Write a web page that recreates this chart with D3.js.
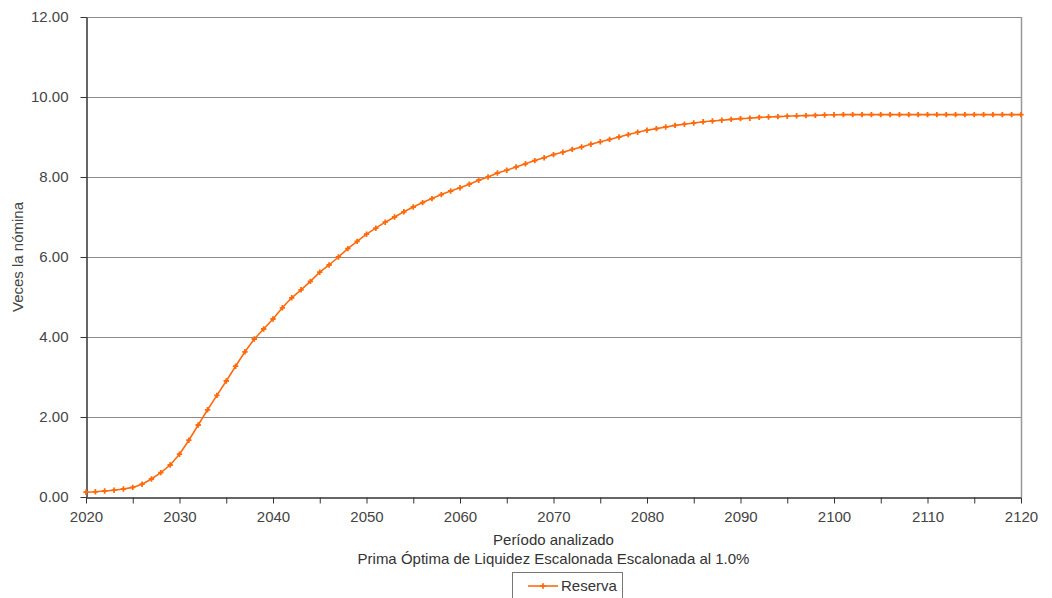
<!DOCTYPE html>
<html>
<head>
<meta charset="utf-8">
<script src="https://cdn.jsdelivr.net/npm/d3@7"></script>
<style>
  html, body { margin: 0; padding: 0; background: #fff; }
  svg { display: block; font-family: "Liberation Sans", Arial, sans-serif; }
</style>
</head>
<body>
<svg id="chart" width="1052" height="598"></svg>
<script>
const years = d3.range(2020, 2121);
const reserva = [
  0.12, 0.13, 0.15, 0.17, 0.20, 0.24, 0.32, 0.45, 0.61, 0.80,
  1.07, 1.42, 1.80, 2.18, 2.54, 2.90, 3.27, 3.63, 3.95, 4.20,
  4.45, 4.73, 4.98, 5.18, 5.39, 5.62, 5.80, 6.00, 6.21, 6.39,
  6.57, 6.72, 6.87, 7.00, 7.13, 7.25, 7.36, 7.46, 7.56, 7.65,
  7.73, 7.82, 7.92, 8.00, 8.10, 8.17, 8.25, 8.33, 8.41, 8.48,
  8.56, 8.62, 8.69, 8.75, 8.82, 8.88, 8.94, 9.00, 9.06, 9.12,
  9.17, 9.21, 9.25, 9.29, 9.32, 9.35, 9.38, 9.40, 9.42, 9.44,
  9.46, 9.47, 9.49, 9.50, 9.51, 9.52, 9.53, 9.535, 9.54, 9.55,
  9.555, 9.56, 9.56, 9.56, 9.56, 9.56, 9.56, 9.56, 9.56, 9.56,
  9.56, 9.56, 9.56, 9.56, 9.56, 9.56, 9.56, 9.56, 9.56, 9.56,
  9.56
];
const yTicks = [0, 2, 4, 6, 8, 10, 12];
const xTicks = d3.range(2020, 2121, 5);
const xTitle = "Período analizado";
const subTitle = "Prima Óptima de Liquidez Escalonada Escalonada al 1.0%";
const yTitle = "Veces la nómina";
const seriesName = "Reserva";

const W = 1052, H = 598;
const margin = { left: 86, right: 31, top: 17, bottom: 101 };
const svg = d3.select("#chart");
const x = d3.scaleLinear().domain([2020, 2120]).range([margin.left, W - margin.right]);
const y = d3.scaleLinear().domain([0, 12]).range([H - margin.bottom, margin.top]);
const orange = "#ff6a0d";
const textColor = "#444";
const fs = 15;

// gridlines
svg.append("g").selectAll("line").data(yTicks.filter(d => d > 0)).join("line")
  .attr("x1", x(2020)).attr("x2", x(2120))
  .attr("y1", d => Math.round(y(d)) + 0.5).attr("y2", d => Math.round(y(d)) + 0.5)
  .attr("stroke", "#8a8a8a").attr("stroke-width", 1);

// right border
svg.append("line")
  .attr("x1", Math.round(x(2120)) + 0.5).attr("x2", Math.round(x(2120)) + 0.5)
  .attr("y1", y(12)).attr("y2", y(0))
  .attr("stroke", "#999").attr("stroke-width", 1.5);

// x axis
const xAxis = svg.append("g")
  .attr("transform", `translate(0,${Math.round(y(0)) + 0.5})`)
  .call(d3.axisBottom(x).tickValues(xTicks)
    .tickFormat(d => d % 10 === 0 ? String(d) : "")
    .tickSize(6).tickSizeOuter(0).tickPadding(8));
xAxis.select(".domain").attr("stroke", "#333").attr("stroke-width", 1.5);
xAxis.selectAll(".tick line").attr("stroke", "#333");
xAxis.selectAll("text").attr("fill", textColor).attr("font-size", fs)
  .attr("font-family", "Liberation Sans, Arial, sans-serif");

// y axis
const yAxis = svg.append("g")
  .attr("transform", `translate(${Math.round(x(2020)) + 0.5},0)`)
  .call(d3.axisLeft(y).tickValues(yTicks).tickFormat(d3.format(".2f"))
    .tickSize(6).tickSizeOuter(0).tickPadding(12));
yAxis.select(".domain").attr("stroke", "#333").attr("stroke-width", 1.5);
yAxis.selectAll(".tick line").attr("stroke", "#333");
yAxis.selectAll("text").attr("fill", textColor).attr("font-size", fs)
  .attr("font-family", "Liberation Sans, Arial, sans-serif");

// line
const data = years.map((yr, i) => ({ yr, v: reserva[i] }));
svg.append("path").datum(data)
  .attr("fill", "none").attr("stroke", orange).attr("stroke-width", 1.6)
  .attr("d", d3.line().x(d => x(d.yr)).y(d => y(d.v)));

const sym = d3.symbol().type(d3.symbolCross).size(16);
svg.append("g").selectAll("path").data(data).join("path")
  .attr("transform", d => `translate(${x(d.yr)},${y(d.v)})`)
  .attr("d", sym).attr("fill", orange);

// titles
svg.append("text").attr("x", (x(2020) + x(2120)) / 2).attr("y", 545)
  .attr("text-anchor", "middle").attr("font-size", fs).attr("fill", "#333").text(xTitle);
svg.append("text").attr("x", (x(2020) + x(2120)) / 2).attr("y", 564)
  .attr("text-anchor", "middle").attr("font-size", fs).attr("fill", "#333").text(subTitle);
svg.append("text")
  .attr("transform", `translate(23,${(y(0) + y(12)) / 2}) rotate(-90)`)
  .attr("text-anchor", "middle").attr("font-size", fs).attr("fill", textColor).text(yTitle);

// legend
const lg = svg.append("g");
lg.append("rect").attr("x", 512.5).attr("y", 572.5).attr("width", 110).attr("height", 40)
  .attr("fill", "#fff").attr("stroke", "#777").attr("stroke-width", 1);
lg.append("line").attr("x1", 528).attr("x2", 558).attr("y1", 586).attr("y2", 586)
  .attr("stroke", orange).attr("stroke-width", 1.6);
lg.append("path").attr("transform", "translate(543,586)").attr("d", sym).attr("fill", orange);
lg.append("text").attr("x", 561).attr("y", 591).attr("font-size", fs).attr("fill", "#333").text(seriesName);
</script>
</body>
</html>
